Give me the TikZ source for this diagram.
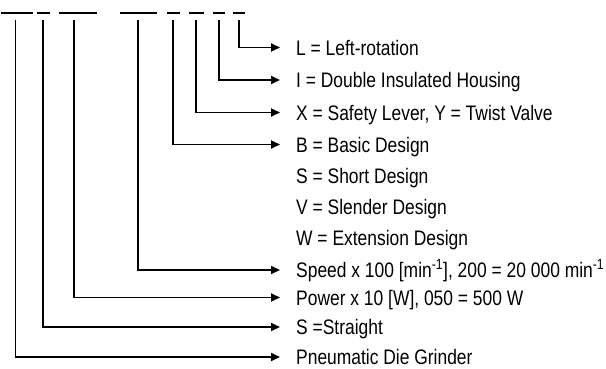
\documentclass[tikz,border=0pt]{standalone}
\usepackage{fontspec}
\setmainfont{Liberation Sans}[FakeStretch=0.83]
\usetikzlibrary{arrows.meta}
\begin{document}
\begin{tikzpicture}[x=1pt,y=1pt,
  seg/.style={line width=2.6pt},
  conn/.style={line width=1.8pt,-{Triangle[length=9pt,width=8pt]}},
  lbl/.style={anchor=base west,inner sep=0pt,font=\fontsize{21}{23}\selectfont}]
\useasboundingbox (0,0) rectangle (606,368);
% top code segments
\draw[seg] (1,355) -- (33,355);
\draw[seg] (37,355) -- (50,355);
\draw[seg] (59,355) -- (97,355);
\draw[seg] (120,355) -- (157,355);
\draw[seg] (167,355) -- (180,355);
\draw[seg] (189,355) -- (204,355);
\draw[seg] (213,355) -- (225,355);
\draw[seg] (233,355) -- (245,355);
% vertical starts
\coordinate (v1) at (15.5,348);
\coordinate (v2) at (43,348);
\coordinate (v3) at (74,348);
\coordinate (v4) at (138,348);
\coordinate (v5) at (173,348);
\coordinate (v6) at (196,348);
\coordinate (v7) at (219,348);
\coordinate (v8) at (239,348);
% labels (baseline = arrow y - 7.5)
\node[lbl] (tL) at (296,313) {L = Left-rotation};
\node[lbl] (tI) at (296,280.5) {I = Double Insulated Housing};
\node[lbl] (tX) at (296,248) {X = Safety Lever, Y = Twist Valve};
\node[lbl] (tB) at (296,216) {B = Basic Design};
\node[lbl] (tS) at (296,185) {S = Short Design};
\node[lbl] (tV) at (296,153.5) {V = Slender Design};
\node[lbl] (tW) at (296,123) {W = Extension Design};
\node[lbl] (tSp) at (296,90.5) {Speed x 100 [min\textsuperscript{-1}], 200 = 20 000 min\textsuperscript{-1}};
\node[lbl] (tP) at (296,63) {Power x 10 [W], 050 = 500 W};
\node[lbl] (tSt) at (296,33.5) {S =Straight};
\node[lbl] (tPn) at (296,3.5) {Pneumatic Die Grinder};
% connectors
\draw[conn] (v8) |- ([xshift=-16pt,yshift=7.5pt]tL.base west);
\draw[conn] (v7) |- ([xshift=-16pt,yshift=7.5pt]tI.base west);
\draw[conn] (v6) |- ([xshift=-16pt,yshift=7.5pt]tX.base west);
\draw[conn] (v5) |- ([xshift=-16pt,yshift=7.5pt]tB.base west);
\draw[conn] (v4) |- ([xshift=-16pt,yshift=7.5pt]tSp.base west);
\draw[conn] (v3) |- ([xshift=-16pt,yshift=7.5pt]tP.base west);
\draw[conn] (v2) |- ([xshift=-16pt,yshift=7.5pt]tSt.base west);
\draw[conn] (v1) |- ([xshift=-16pt,yshift=7.5pt]tPn.base west);
\end{tikzpicture}
\end{document}
